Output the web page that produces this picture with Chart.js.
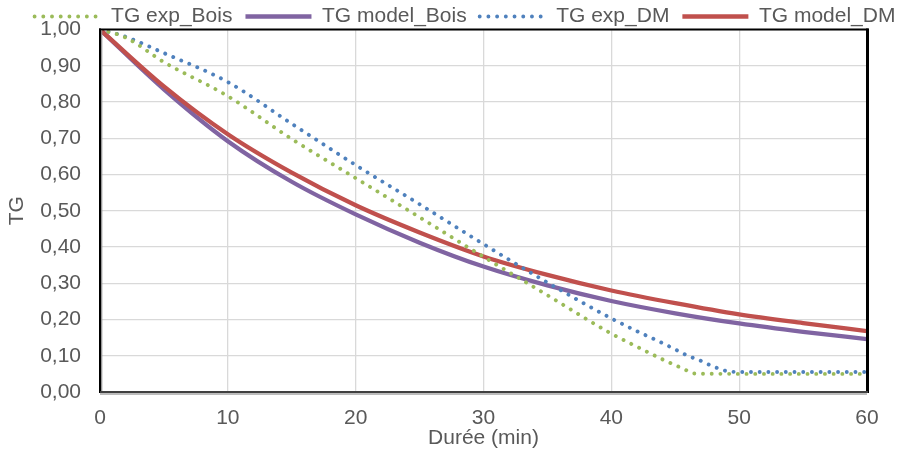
<!DOCTYPE html>
<html>
<head>
<meta charset="utf-8">
<script src="https://cdn.jsdelivr.net/npm/chart.js@4.4.1/dist/chart.umd.min.js"></script>
<style>
html,body{margin:0;padding:0;background:#fff;}
#wrap{width:904px;height:450px;}
</style>
</head>
<body>
<div id="wrap"><canvas id="c" width="904" height="450"></canvas></div>
<script>
// ---- data ----
const seriesLabels = ['TG exp_Bois', 'TG model_Bois', 'TG exp_DM', 'TG model_DM'];

const timeModel   = [0, 5, 10, 15, 20, 25, 30, 35, 40, 45, 50, 55, 60];
const tgModelBois = [1.00, 0.835, 0.692, 0.580, 0.490, 0.412, 0.346, 0.294, 0.251, 0.217, 0.189, 0.166, 0.146];
const tgModelDM   = [1.00, 0.843, 0.711, 0.605, 0.515, 0.440, 0.374, 0.323, 0.280, 0.245, 0.214, 0.190, 0.168];

const timeExpBois = [0, 2, 5, 10, 15, 20, 25, 30, 35, 40, 42, 44, 45, 46, 46.5, 50, 55, 60];
const tgExpBois   = [1.00, 0.978, 0.910, 0.816, 0.698, 0.590, 0.482, 0.373, 0.267, 0.161, 0.125, 0.090, 0.074, 0.058, 0.051, 0.050, 0.050, 0.050];

const timeExpDM   = [0, 2, 5, 10, 15, 20, 25, 30, 35, 40, 42, 44, 46, 47, 48, 49, 50, 55, 60];
const tgExpDM     = [1.00, 0.980, 0.935, 0.855, 0.740, 0.626, 0.518, 0.408, 0.302, 0.203, 0.168, 0.135, 0.100, 0.086, 0.070, 0.058, 0.055, 0.055, 0.055];

const xMin = 0, xMax = 60, xStep = 10;
const yMin = 0, yMax = 1, yStep = 0.1;

// ---- styles ----
const FONT = "'Liberation Sans', Arial, sans-serif";
const TXT = '#595959';
const colors = { expBois: '#9BBB59', modelBois: '#8064A2', expDM: '#4F81BD', modelDM: '#C0504D' };

const pts = (xs, ys) => xs.map((x, i) => ({ x: x, y: ys[i] }));

const plotBorder = {
  id: 'plotBorder',
  afterDatasetsDraw(chart) {
    const { ctx, chartArea: a } = chart;
    ctx.save();
    const seg = (x1, y1, x2, y2, c, w) => {
      ctx.beginPath(); ctx.strokeStyle = c; ctx.lineWidth = w;
      ctx.moveTo(x1, y1); ctx.lineTo(x2, y2); ctx.stroke();
    };
    seg(a.left - 1, a.top, a.right + 1.5, a.top, '#000', 2);
    seg(a.right + 0.5, a.top - 1, a.right + 0.5, a.bottom + 1, '#000', 3);
    seg(a.left, a.top - 1, a.left, a.bottom + 1, '#000', 2);
    seg(a.left + 1.7, a.top + 1, a.left + 1.7, a.bottom, '#8c8c8c', 1.2);
    seg(a.left, a.bottom, a.right + 1, a.bottom, '#404040', 2);
    seg(a.left, a.bottom + 2, a.right, a.bottom + 2, '#a6a6a6', 1.5);
    ctx.restore();
  }
};

const dotted = { borderDash: [0.01, 8.7], borderCapStyle: 'round', borderWidth: 3.9 };

new Chart(document.getElementById('c'), {
  type: 'line',
  data: {
    datasets: [
      Object.assign({ label: seriesLabels[0], data: pts(timeExpBois, tgExpBois), borderColor: colors.expBois, backgroundColor: colors.expBois, order: 0 }, dotted),
      { label: seriesLabels[1], data: pts(timeModel, tgModelBois), borderColor: colors.modelBois, backgroundColor: colors.modelBois, borderWidth: 4.3, order: 3 },
      Object.assign({ label: seriesLabels[2], data: pts(timeExpDM, tgExpDM), borderColor: colors.expDM, backgroundColor: colors.expDM, order: 1 }, dotted),
      { label: seriesLabels[3], data: pts(timeModel, tgModelDM), borderColor: colors.modelDM, backgroundColor: colors.modelDM, borderWidth: 4.3, order: 2 }
    ]
  },
  options: {
    responsive: false,
    animation: false,
    devicePixelRatio: 1,
    elements: {
      point: { radius: 0, hoverRadius: 0 },
      line: { cubicInterpolationMode: 'monotone', fill: false }
    },
    layout: { padding: { top: -9.5, left: 0, right: -26, bottom: 0 } },
    plugins: {
      tooltip: { enabled: false },
      legend: {
        position: 'top',
        maxHeight: 36.5,
        labels: {
          usePointStyle: true,
          pointStyle: 'line',
          pointStyleWidth: 66,
          padding: 13,
          color: TXT,
          font: { family: FONT, size: 21 },
          sort: (a, b) => a.datasetIndex - b.datasetIndex,
          generateLabels: chart => {
            const items = Chart.defaults.plugins.legend.labels.generateLabels(chart);
            items.forEach(it => {
              const ds = chart.data.datasets[it.datasetIndex];
              it.lineDash = ds.borderDash || [];
              it.lineCap = ds.borderCapStyle || 'butt';
              it.lineWidth = ds.borderWidth;
              it.strokeStyle = ds.borderColor;
            });
            return items;
          }
        }
      }
    },
    scales: {
      x: {
        type: 'linear',
        min: xMin, max: xMax,
        border: { display: false },
        grid: { color: '#d9d9d9', lineWidth: 1.3, drawTicks: false },
        ticks: { stepSize: xStep, padding: 14, color: TXT, font: { family: FONT, size: 21 }, maxRotation: 0 },
        title: { display: true, text: 'Durée (min)', color: TXT, font: { family: FONT, size: 21 }, padding: { top: 0, bottom: -1 } },
        afterFit: s => { s.height = 58; }
      },
      y: {
        type: 'linear',
        position: 'left',
        min: yMin, max: yMax,
        border: { display: false },
        grid: { color: '#d9d9d9', lineWidth: 1.3, drawTicks: false },
        ticks: {
          stepSize: yStep, padding: 19, color: TXT, font: { family: FONT, size: 21, lineHeight: 1.0 },
          callback: v => Number(v).toFixed(2).replace('.', ',')
        },
        title: { display: true, text: 'TG', color: TXT, font: { family: FONT, size: 21 }, padding: { top: 5, bottom: 0 } },
        afterFit: s => { s.width = 100; }
      },
      yRight: {
        type: 'linear',
        position: 'right',
        display: true,
        border: { display: false },
        grid: { display: false, drawTicks: false },
        ticks: { display: false },
        afterFit: s => { s.width = 63; }
      }
    }
  },
  plugins: [plotBorder]
});
</script>
</body>
</html>
